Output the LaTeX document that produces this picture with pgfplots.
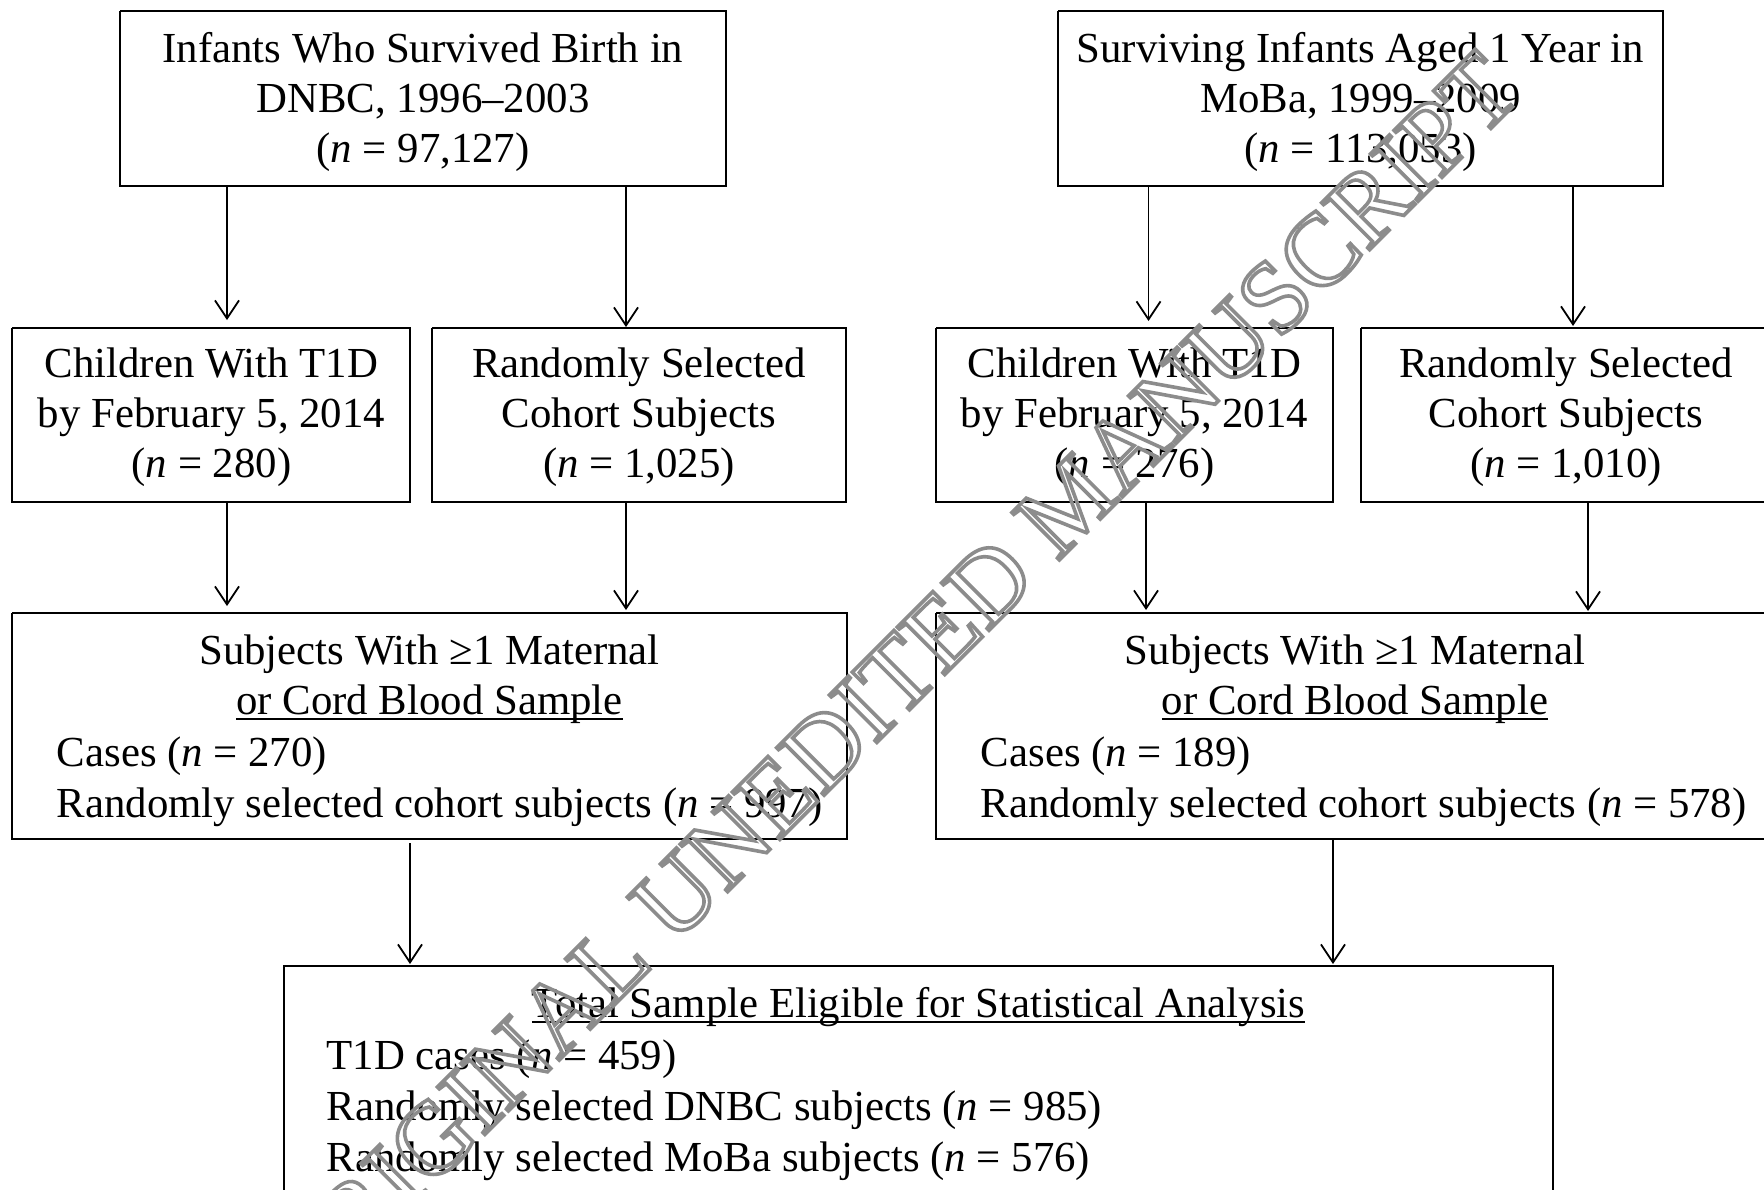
\documentclass[border=0pt]{standalone}
\usepackage{pgfplots}
\pgfplotsset{compat=1.18}
\usepackage{fontspec}
\setmainfont{Liberation Serif}
\usetikzlibrary{arrows.meta}
\newcommand\ul[1]{\setbox0\hbox{#1}\rlap{\rule[-1.6pt]{\wd0}{0.5pt}}\box0}
\newcommand\nn{\textit{n}}
\begin{document}
\begin{tikzpicture}[every node/.style={font=\fontsize{10.7pt}{12.7pt}\selectfont, inner sep=0pt}]
\begin{axis}[
  width=441pt, height=297.25pt, scale only axis,
  xmin=0, xmax=1764, ymin=0, ymax=1189, y dir=reverse,
  hide axis, clip=false,
]
% boxes
\addplot[black, line width=0.6pt] coordinates {(120,11) (726,11) (726,186) (120,186) (120,11)};
\addplot[black, line width=0.6pt] coordinates {(1058,11) (1663,11) (1663,186) (1058,186) (1058,11)};
\addplot[black, line width=0.6pt] coordinates {(12,328) (410,328) (410,502) (12,502) (12,328)};
\addplot[black, line width=0.6pt] coordinates {(432,328) (846,328) (846,502) (432,502) (432,328)};
\addplot[black, line width=0.6pt] coordinates {(936,328) (1333,328) (1333,502) (936,502) (936,328)};
\addplot[black, line width=0.6pt] coordinates {(1361,328) (1780,328) (1780,502) (1361,502) (1361,328)};
\addplot[black, line width=0.6pt] coordinates {(12,613) (847,613) (847,839) (12,839) (12,613)};
\addplot[black, line width=0.6pt] coordinates {(936,613) (1780,613) (1780,839) (936,839) (936,613)};
\addplot[black, line width=0.6pt] coordinates {(284,1210) (284,966) (1553,966) (1553,1210)};
% arrows
\pgfplotsset{arr/.style={black, line width=0.45pt, -{Straight Barb[length=4.5pt,width=6pt]}}}
\addplot[arr] coordinates {(227,186) (227,320)};
\addplot[arr] coordinates {(626,187) (626,327)};
\addplot[arr] coordinates {(1148.5,187) (1148.5,321)};
\addplot[arr] coordinates {(1573,187) (1573,326)};
\addplot[arr] coordinates {(227,502) (227,606)};
\addplot[arr] coordinates {(626,502) (626,610)};
\addplot[arr] coordinates {(1146,502) (1146,610)};
\addplot[arr] coordinates {(1588,502) (1588,611)};
\addplot[arr] coordinates {(410,843) (410,964)};
\addplot[arr] coordinates {(1333,840) (1333,964)};
% text box A
\node[anchor=base] at (axis cs:423,62) {Infants Who Survived Birth in};
\node[anchor=base] at (axis cs:423,112) {DNBC, 1996–2003};
\node[anchor=base] at (axis cs:423,162) {(\nn{} = 97,127)};
% box B
\node[anchor=base] at (axis cs:1360.5,62) {Surviving Infants Aged 1 Year in};
\node[anchor=base] at (axis cs:1360.5,112) {MoBa, 1999–2009};
\node[anchor=base] at (axis cs:1360.5,162) {(\nn{} = 113,053)};
% box C
\node[anchor=base] at (axis cs:211.5,377) {Children With T1D};
\node[anchor=base] at (axis cs:211.5,427) {by February 5, 2014};
\node[anchor=base] at (axis cs:211.5,477) {(\nn{} = 280)};
% box D
\node[anchor=base] at (axis cs:639,377) {Randomly Selected};
\node[anchor=base] at (axis cs:639,427) {Cohort Subjects};
\node[anchor=base] at (axis cs:639,477) {(\nn{} = 1,025)};
% box E
\node[anchor=base] at (axis cs:1134.5,377) {Children With T1D};
\node[anchor=base] at (axis cs:1134.5,427) {by February 5, 2014};
\node[anchor=base] at (axis cs:1134.5,477) {(\nn{} = 276)};
% box F
\node[anchor=base] at (axis cs:1566,377) {Randomly Selected};
\node[anchor=base] at (axis cs:1566,427) {Cohort Subjects};
\node[anchor=base] at (axis cs:1566,477) {(\nn{} = 1,010)};
% box G
\node[anchor=base] at (axis cs:429.5,664) {Subjects With ≥1 Maternal};
\node[anchor=base] at (axis cs:429.5,714) {\ul{or Cord Blood Sample}};
\node[anchor=base west] at (axis cs:56,766) {Cases (\nn{} = 270)};
\node[anchor=base west] at (axis cs:56,817) {Randomly selected cohort subjects (\nn{} = 997)};
% box I
\node[anchor=base] at (axis cs:1355,664) {Subjects With ≥1 Maternal};
\node[anchor=base] at (axis cs:1355,714) {\ul{or Cord Blood Sample}};
\node[anchor=base west] at (axis cs:980,766) {Cases (\nn{} = 189)};
\node[anchor=base west] at (axis cs:980,817) {Randomly selected cohort subjects (\nn{} = 578)};
% box H
\node[anchor=base] at (axis cs:918.5,1017) {\ul{Total Sample Eligible for Statistical Analysis}};
\node[anchor=base west] at (axis cs:326,1069) {T1D cases (\nn{} = 459)};
\node[anchor=base west] at (axis cs:326,1120) {Randomly selected DNBC subjects (\nn{} = 985)};
\node[anchor=base west] at (axis cs:326,1171) {Randomly selected MoBa subjects (\nn{} = 576)};
% watermark
\node[rotate=45, text=black!45, font=\fontsize{25.6pt}{30pt}\selectfont] at (axis cs:891,681)
  {\special{pdf:literal direct 1 Tr 0.9 w}ORIGINAL UNEDITED MANUSCRIPT\special{pdf:literal direct 0 Tr}};
\coordinate (bl) at (axis cs:0,1189);
\coordinate (tr) at (axis cs:1764,0);
\end{axis}
\pgfresetboundingbox
\useasboundingbox (bl) rectangle (tr);
\end{tikzpicture}
\end{document}
